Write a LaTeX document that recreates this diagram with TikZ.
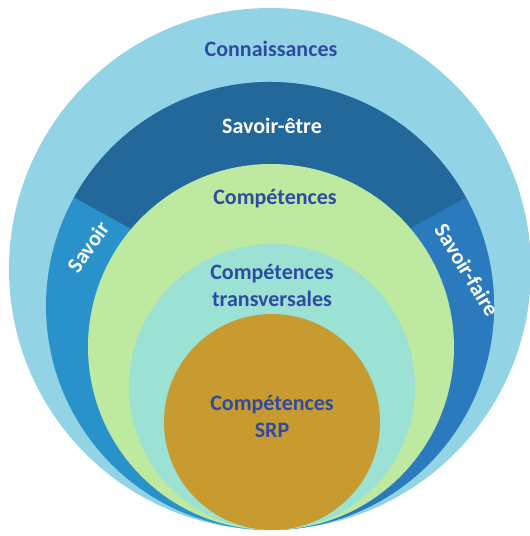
\documentclass[tikz,border=0pt]{standalone}
\usepackage{fontspec}
\setmainfont{Carlito}
\definecolor{skyblue}{RGB}{146,211,229}
\definecolor{deepblue}{RGB}{35,104,155}
\definecolor{leftblue}{RGB}{42,146,202}
\definecolor{rightblue}{RGB}{43,122,190}
\definecolor{softgreen}{RGB}{190,233,160}
\definecolor{softteal}{RGB}{155,225,212}
\definecolor{ochre}{RGB}{200,155,48}
\definecolor{inkblue}{RGB}{45,75,160}

\begin{document}
\begin{tikzpicture}[x=1pt,y=1pt,
	disc/.style={circle,inner sep=0mm,draw=none},
	word/.style={font=\fontsize{22}{27}\selectfont\bfseries,text=inkblue,align=center},
	bandword/.style={word,text=white}]
	\useasboundingbox (0,0) rectangle (530,536);
	\node (K) at (270,267) [disc,fill=skyblue,minimum size=522pt] {};
	\node (S) at (270,230) [disc,fill=leftblue,minimum size=448pt] {};
	\fill [rightblue] (S.center) -- ++(29:224) arc [start angle=29,end angle=-90,radius=224] -- cycle;
	\fill [deepblue] (S.center) -- ++(29:224) arc [start angle=29,end angle=151,radius=224] -- cycle;
	\node (C) at (271,189) [disc,fill=softgreen,minimum size=366pt] {};
	\node (T) at (272,149) [disc,fill=softteal,minimum size=286pt] {};
	\node (R) at (272,114) [disc,fill=ochre,minimum size=216pt] {};
	\node (k) at (271,487) [word] {Connaissances};
	\node (e) at (272,410) [bandword] {Savoir-être};
	\node (s) at ( 88,289) [bandword,rotate=55] {Savoir};
	\node (f) at (467,266) [bandword,rotate=-59] {Savoir-faire};
	\node (c) at (275,337) [word] {Compétences};
	\node (t) at (272,251) [word] {Compétences\\transversales};
	\node (r) at (272,120) [word] {Compétences\\SRP};
\end{tikzpicture}
\end{document}
